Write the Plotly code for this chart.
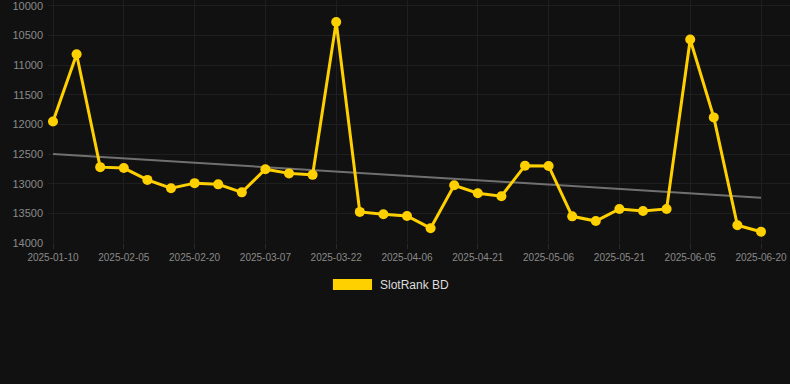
import plotly.graph_objects as go

dates = [
    "2025-01-10", "2025-01-26", "2025-01-31", "2025-02-05", "2025-02-10", "2025-02-15",
    "2025-02-20", "2025-02-25", "2025-03-02", "2025-03-07", "2025-03-12", "2025-03-17",
    "2025-03-22", "2025-03-27", "2025-04-01", "2025-04-06", "2025-04-11", "2025-04-16",
    "2025-04-21", "2025-04-26", "2025-05-01", "2025-05-06", "2025-05-11", "2025-05-16",
    "2025-05-21", "2025-05-26", "2025-05-31", "2025-06-05", "2025-06-10", "2025-06-15",
    "2025-06-20",
]
ranks = [
    11950, 10815, 12720, 12735, 12935, 13075, 12990, 13010, 13145, 12755, 12825, 12850,
    10270, 13475, 13515, 13545, 13750, 13025, 13160, 13210, 12695, 12700, 13550, 13630,
    13425, 13460, 13425, 10565, 11880, 13700, 13810,
]
trend = [12500, 13235]
tick_labels = dates[::3]
y_ticks = [10000, 10500, 11000, 11500, 12000, 12500, 13000, 13500, 14000]
series_name = "SlotRank BD"

GOLD = "#FFD000"
BG = "#111111"
GRID = "#1f1f1f"
TXT = "#8a8a8a"
FONT = "Liberation Sans, Arial, sans-serif"

fig = go.Figure()
fig.add_trace(go.Scatter(
    x=[dates[0], dates[-1]], y=trend, mode="lines",
    line=dict(color="#707070", width=2), hoverinfo="skip", showlegend=False,
))
fig.add_trace(go.Scatter(
    x=dates, y=ranks, mode="lines+markers", name=series_name,
    line=dict(color=GOLD, width=3),
    marker=dict(color=GOLD, size=10),
    showlegend=False,
))

# legend drawn as shape + text (plot area spans y 0..243 px)
fig.add_shape(type="rect", xref="paper", yref="paper",
              x0=0.384, x1=0.4367, y0=-0.193, y1=-0.148,
              fillcolor=GOLD, line=dict(width=0))
fig.add_annotation(text=series_name, xref="paper", yref="paper",
                   x=0.4447, y=-0.171, xanchor="left", yanchor="middle",
                   showarrow=False, font=dict(family=FONT, size=12, color="#dddddd"))

fig.update_layout(
    width=790, height=384,
    margin=dict(l=48, r=0, t=0, b=141),
    paper_bgcolor=BG, plot_bgcolor=BG,
    font=dict(family=FONT, color=TXT),
    showlegend=False,
    xaxis=dict(
        type="category", categoryorder="array", categoryarray=dates,
        range=[-0.212, 31.229],
        tickmode="array", tickvals=tick_labels, ticktext=tick_labels,
        showgrid=True, gridcolor=GRID, gridwidth=1,
        zeroline=False, showline=False,
        ticks="outside", ticklen=5, tickcolor="#2a2a2a",
        tickfont=dict(size=10, color=TXT),
        ticklabeloverflow="allow",
    ),
    yaxis=dict(
        range=[14000, 9899],
        tickmode="array", tickvals=y_ticks, ticktext=[str(v) for v in y_ticks],
        showgrid=True, gridcolor=GRID, gridwidth=1,
        zeroline=False, showline=False,
        ticks="", ticklabelstandoff=4,
        tickfont=dict(size=11, color=TXT),
        ticklabeloverflow="allow",
    ),
)

fig.write_html(
    "out.html",
    config={"displayModeBar": False},
    post_script="document.body.style.margin='0';document.body.style.background='#111111';",
)
